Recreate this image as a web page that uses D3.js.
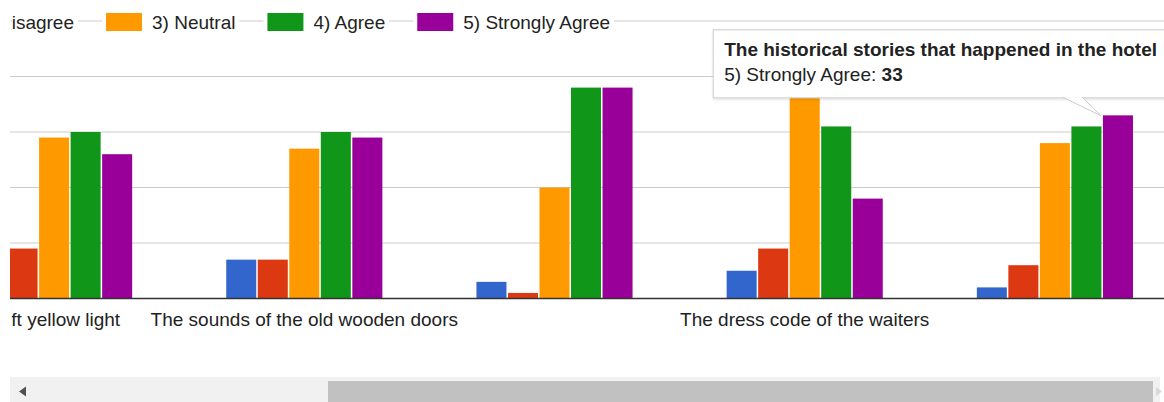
<!DOCTYPE html>
<html>
<head>
<meta charset="utf-8">
<script src="https://cdn.jsdelivr.net/npm/d3@7"></script>
<style>
body { margin: 0; background: #fff; overflow: hidden; }
text { font-family: "Liberation Sans", Arial, sans-serif; }
</style>
</head>
<body>
<div id="chart"></div>
<script>
// answer options (legend) and their colours
var series = ["1) Strongly Disagree", "2) Disagree", "3) Neutral", "4) Agree", "5) Strongly Agree"];
var colors = ["#3366cc", "#dc3912", "#ff9900", "#109618", "#990099"];

// x labels, only some are drawn by the original chart
var tickLabels = ["Soft yellow light", "The sounds of the old wooden doors", "", "The dress code of the waiters", ""];

// counts per question
var stronglyDisagree = [6, 7, 3, 5, 2];
var disagree         = [9, 7, 1, 9, 6];
var neutral          = [29, 27, 20, 37, 28];
var agree            = [30, 30, 38, 31, 31];
var stronglyAgree    = [26, 29, 38, 18, 33];

var yTicks = [10, 20, 30, 40, 50];

// hovered bar
var tooltipTitle = "The historical stories that happened in the hotel";
var tooltipCat = 4;
var tooltipSeries = 4;

var values = [stronglyDisagree, disagree, neutral, agree, stronglyAgree];

var W = 1164, H = 402;
var fontSize = 19;

var svg = d3.select("#chart").append("svg")
    .attr("width", W)
    .attr("height", H);

// the chart is scrolled, everything left of x=10 is hidden
var defs = svg.append("defs");
defs.append("clipPath").attr("id", "clip")
    .append("rect")
    .attr("x", 10).attr("y", 0)
    .attr("width", W - 10).attr("height", 360);
defs.append("clipPath").attr("id", "clipText")
    .append("rect")
    .attr("x", 11.5).attr("y", 0)
    .attr("width", W - 11.5).attr("height", 360);

var shadow = defs.append("filter").attr("id", "shadow")
    .attr("x", "-10%").attr("y", "-20%").attr("width", "120%").attr("height", "160%");
shadow.append("feDropShadow")
    .attr("dx", 1).attr("dy", 1).attr("stdDeviation", 1.5)
    .attr("flood-color", "#000").attr("flood-opacity", 0.15);

var y = d3.scaleLinear().domain([0, 50]).range([298.5, 21]);

var x0 = d3.scaleBand().domain(d3.range(tickLabels.length))
    .range([-71, 1180])
    .paddingInner(0.37)
    .paddingOuter(0.185);

var x1 = d3.scaleBand().domain(d3.range(series.length))
    .range([0, x0.bandwidth()]);

var plot = svg.append("g").attr("clip-path", "url(#clip)");

// gridlines
plot.selectAll(".grid").data(yTicks).enter().append("line")
    .attr("x1", 10).attr("x2", W)
    .attr("y1", function(d){ return y(d); })
    .attr("y2", function(d){ return y(d); })
    .attr("stroke", "#cccccc")
    .attr("stroke-width", 1);

// bars
var groups = plot.selectAll(".grp").data(d3.range(tickLabels.length)).enter().append("g")
    .attr("transform", function(c){ return "translate(" + x0(c) + ",0)"; });

groups.selectAll("rect").data(function(c){
        return series.map(function(s, i){ return { s: i, c: c, v: values[i][c] }; });
    })
    .enter().append("rect")
    .attr("x", function(d){ return x1(d.s) + 0.75; })
    .attr("width", x1.bandwidth() - 1.5)
    .attr("y", function(d){ return y(d.v); })
    .attr("height", function(d){ return y(0) - y(d.v); })
    .attr("fill", function(d){ return colors[d.s]; });

// baseline
plot.append("line")
    .attr("x1", 10).attr("x2", W)
    .attr("y1", y(0)).attr("y2", y(0))
    .attr("stroke", "#333333")
    .attr("stroke-width", 1.5);

var texts = svg.append("g").attr("clip-path", "url(#clipText)");

// x labels
texts.selectAll(".xlab").data(tickLabels).enter().append("text")
    .attr("x", function(d, i){ return x0(i) + x0.bandwidth() / 2; })
    .attr("y", 326)
    .attr("text-anchor", "middle")
    .attr("font-size", fontSize)
    .attr("fill", "#222222")
    .text(function(d){ return d; });

// legend, laid out in a row over the top gridline
var legend = texts.append("g");
var items = legend.selectAll("g").data(series).enter().append("g");
var bgs = items.append("rect")
    .attr("x", -4).attr("y", 10).attr("height", 24)
    .attr("fill", "#ffffff");
items.append("rect")
    .attr("x", 0).attr("y", 13)
    .attr("width", 36).attr("height", 18)
    .attr("fill", function(d, i){ return colors[i]; });
items.append("text")
    .attr("x", 46).attr("y", 28.5)
    .attr("font-size", fontSize)
    .attr("fill", "#222222")
    .text(function(d){ return d; });

var widths = [];
items.select("text").each(function(){ widths.push(this.getComputedTextLength()); });
var pos = [], cx = 0;
widths.forEach(function(w){ pos.push(cx); cx += 46 + w + 32; });
var shift = 106 - pos[2];
items.attr("transform", function(d, i){ return "translate(" + (pos[i] + shift) + ",0)"; });
bgs.attr("width", function(d, i){ return 46 + widths[i] + 8; });

// tooltip
var tipX = x0(tooltipCat) + x1(tooltipSeries) - 1;
var tipY = y(values[tooltipSeries][tooltipCat]) + 0.5;
var boxX = tipX - 388, boxY = tipY - 86, boxH = 68;

var tip = svg.append("g");
tip.append("rect")
    .attr("x", boxX).attr("y", boxY)
    .attr("width", W - boxX + 20).attr("height", boxH)
    .attr("fill", "#ffffff")
    .attr("stroke", "#cccccc")
    .attr("stroke-width", 1)
    .attr("filter", "url(#shadow)");
tip.append("path")
    .attr("d", "M" + (tipX - 38) + "," + (boxY + boxH - 0.5) +
               "L" + tipX + "," + tipY +
               "L" + (tipX - 19) + "," + (boxY + boxH - 0.5))
    .attr("fill", "#ffffff")
    .attr("stroke", "#cccccc")
    .attr("stroke-width", 1);
tip.append("text")
    .attr("x", boxX + 11).attr("y", boxY + 26.5)
    .attr("font-size", fontSize)
    .attr("font-weight", "bold")
    .attr("fill", "#222222")
    .text(tooltipTitle);
var line2 = tip.append("text")
    .attr("x", boxX + 11).attr("y", boxY + 51.5)
    .attr("font-size", fontSize)
    .attr("fill", "#222222");
line2.append("tspan").text(series[tooltipSeries] + ": ");
line2.append("tspan").attr("font-weight", "bold").text(values[tooltipSeries][tooltipCat]);

// horizontal scrollbar
var sb = svg.append("g");
sb.append("rect").attr("x", 10).attr("y", 377).attr("width", 1150).attr("height", 25).attr("fill", "#f1f1f1");
sb.append("rect").attr("x", 328).attr("y", 381).attr("width", 825).attr("height", 21).attr("fill", "#c1c1c1");
sb.append("path").attr("d", "M19,391.5L26,386.5L26,396.5Z").attr("fill", "#505050");
sb.append("path").attr("d", "M1162,391.5L1156,387L1156,396Z").attr("fill", "#d8d8d8");
</script>
</body>
</html>
